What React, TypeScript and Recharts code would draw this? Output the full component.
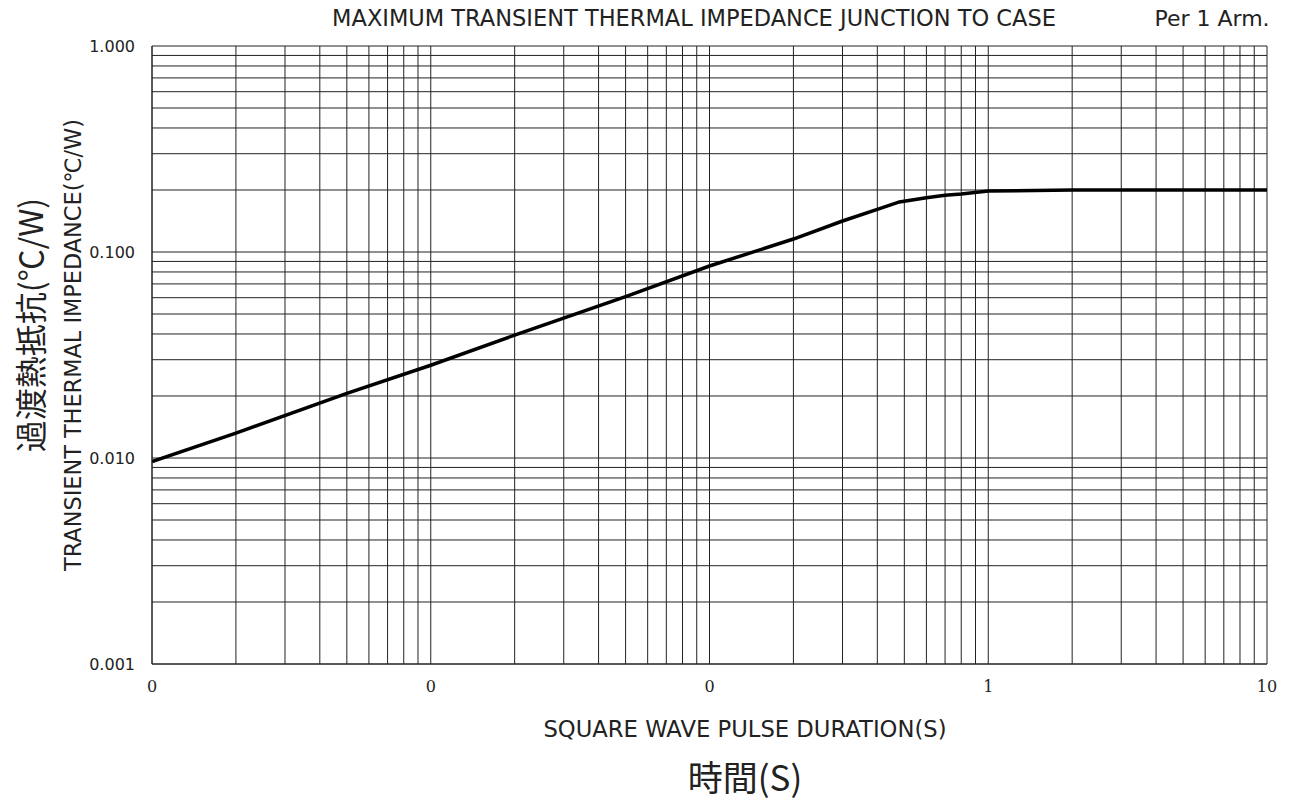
import React from "react";
import {
  LineChart,
  Line,
  XAxis,
  YAxis,
  ReferenceLine,
} from "recharts";

// pulse duration (s) and Zth j-c (°C/W)
const durations = [0.001, 0.002, 0.005, 0.01, 0.02, 0.05, 0.1, 0.2, 0.3, 0.4, 0.48, 0.6, 0.7, 0.8, 1, 2, 10];
const impedance = [0.0096, 0.0132, 0.0206, 0.0282, 0.0395, 0.0607, 0.0855, 0.1156, 0.1414, 0.161, 0.175, 0.1835, 0.1886, 0.1912, 0.1978, 0.2, 0.2];

const xTicks = [0.001, 0.01, 0.1, 1, 10];
const yTicks = [0.001, 0.01, 0.1, 1];

// log grid lines: 1..9 in every decade
const xGrid = [0.001, 0.01, 0.1, 1].flatMap((d) => [1, 2, 3, 4, 5, 6, 7, 8, 9].map((m) => +(d * m).toPrecision(3))).concat([10]);
const yGrid = [0.001, 0.01, 0.1].flatMap((d) => [1, 2, 3, 4, 5, 6, 7, 8, 9].map((m) => +(d * m).toPrecision(3))).concat([1]);

const data = durations.map((t, i) => ({ t, z: impedance[i] }));

const sans = "'DejaVu Sans', Verdana, sans-serif";
const cjk = "'Noto Sans CJK JP', sans-serif";
const GRID = "#222";

const abs = (x: number, y: number, extra: React.CSSProperties = {}): React.CSSProperties => ({
  position: "absolute",
  left: x,
  top: y,
  transform: "translate(-50%, -50%)",
  whiteSpace: "nowrap",
  color: "#222",
  fontFamily: sans,
  ...extra,
});

const vertical = "translate(-50%, -50%) rotate(-90deg)";

export default function App() {
  return (
    <div style={{ position: "relative", width: 1285, height: 791 }}>
      <LineChart
        width={1285}
        height={791}
        data={data}
        margin={{ top: 38, right: 26, left: 84, bottom: 95 }}
      >
        <XAxis
          dataKey="t"
          type="number"
          scale="log"
          domain={[0.001, 10]}
          ticks={xTicks}
          allowDataOverflow
          tickFormatter={(v: number) => v.toFixed(0)}
          tick={{ fontSize: 16, fill: "#222", fontFamily: "'DejaVu Serif', serif" }}
          tickLine={false}
          tickSize={0}
          tickMargin={17}
          axisLine={{ stroke: GRID }}
          height={40}
        />
        <YAxis
          type="number"
          scale="log"
          domain={[0.001, 1]}
          ticks={yTicks}
          allowDataOverflow
          tickFormatter={(v: number) => v.toFixed(3)}
          tick={{ fontSize: 16, fill: "#222", fontFamily: sans }}
          tickLine={false}
          tickSize={0}
          tickMargin={17}
          axisLine={{ stroke: GRID }}
          width={60}
        />
        {xGrid.map((v) => (
          <ReferenceLine key={"x" + v} x={v} stroke={GRID} strokeWidth={1} />
        ))}
        {yGrid.map((v) => (
          <ReferenceLine key={"y" + v} y={v} stroke={GRID} strokeWidth={1} />
        ))}
        <Line
          type="linear"
          dataKey="z"
          stroke="#000"
          strokeWidth={3.5}
          dot={false}
          isAnimationActive={false}
        />
      </LineChart>

      <div style={abs(686, 10, { fontSize: 22.5 })}>
        MAXIMUM TRANSIENT THERMAL IMPEDANCE JUNCTION TO CASE
      </div>
      <div style={abs(1204, 10, { fontSize: 22 })}>Per 1 Arm.</div>
      <div style={abs(21, 317, { fontSize: 32, transform: vertical, fontFamily: cjk })}>
        過渡熱抵抗(℃/W)
      </div>
      <div style={abs(65, 337, { fontSize: 22.4, transform: vertical })}>
        TRANSIENT THERMAL IMPEDANCE(℃/W)
      </div>
      <div style={abs(737, 721, { fontSize: 22.7 })}>SQUARE WAVE PULSE DURATION(S)</div>
      <div style={abs(737, 767, { fontSize: 35, fontFamily: cjk })}>時間(S)</div>
    </div>
  );
}
